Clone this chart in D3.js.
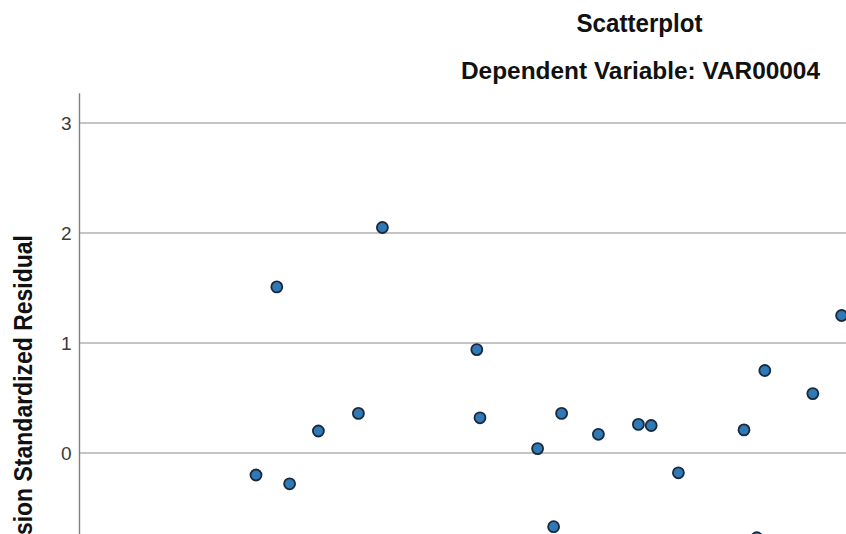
<!DOCTYPE html>
<html>
<head>
<meta charset="utf-8">
<script src="https://cdn.jsdelivr.net/npm/d3@7"></script>
<style>
  html, body { margin: 0; padding: 0; background: #fff; }
  svg { display: block; }
  text { font-family: "Liberation Sans", Arial, sans-serif; }
</style>
</head>
<body>
<svg id="chart" width="846" height="534"></svg>
<script>
// Regression standardized predicted value (x) and standardized residual (y)
const predicted = [-1.40, -1.27, -1.19, -1.01, -0.76, -0.61, -0.02, 0.00, 0.36, 0.46,
                   0.51, 0.74, 0.99, 1.07, 1.24, 1.65, 1.78, 2.08, 2.26, 1.73];
const residual  = [-0.20, 1.51, -0.28, 0.20, 0.36, 2.05, 0.94, 0.32, 0.04, -0.67,
                   0.36, 0.17, 0.26, 0.25, -0.18, 0.21, 0.75, 0.54, 1.25, -0.77];
const yTicks = [0, 1, 2, 3];
const titleText = "Scatterplot";
const subtitleText = "Dependent Variable: VAR00004";
const yTitle = "Regression Standardized Residual";

const svg = d3.select("#chart");
const W = 846, H = 534;
const left = 80;

const x = d3.scaleLinear().domain([-2.5, 2.5]).range([left, left + 800]);
const y = d3.scaleLinear().domain([0, 3]).range([453, 123]);

// horizontal grid lines
svg.append("g")
  .selectAll("line")
  .data(yTicks)
  .join("line")
  .attr("x1", left)
  .attr("x2", W)
  .attr("y1", d => y(d))
  .attr("y2", d => y(d))
  .attr("stroke", "#c4c4c4")
  .attr("stroke-width", 2);

// y axis
const yAxis = d3.axisLeft(y).tickValues(yTicks).tickSize(0).tickPadding(8).tickFormat(d3.format("d"));
const ga = svg.append("g").attr("transform", `translate(${left - 0.5},0)`).call(yAxis);
ga.select(".domain").remove();
ga.selectAll("text")
  .attr("font-size", 19)
  .attr("fill", "#3a3a3a")
  .attr("font-family", "'Liberation Sans', Arial, sans-serif");
svg.append("line")
  .attr("x1", left - 0.5).attr("x2", left - 0.5)
  .attr("y1", y(3.27)).attr("y2", H + 10)
  .attr("stroke", "#808080")
  .attr("stroke-width", 1.4);

// points
const pts = predicted.map((p, i) => ({ p, r: residual[i] }));
svg.append("g")
  .selectAll("circle")
  .data(pts)
  .join("circle")
  .attr("cx", d => x(d.p))
  .attr("cy", d => y(d.r))
  .attr("r", 5.5)
  .attr("fill", "#3079b7")
  .attr("stroke", "#1a2a3d")
  .attr("stroke-width", 1.8);

// titles
svg.append("text")
  .attr("x", 639.5).attr("y", 32)
  .attr("text-anchor", "middle")
  .attr("font-size", 26).attr("font-weight", "bold")
  .attr("textLength", 126).attr("lengthAdjust", "spacingAndGlyphs")
  .attr("fill", "#111")
  .text(titleText);

svg.append("text")
  .attr("x", 640.5).attr("y", 79)
  .attr("text-anchor", "middle")
  .attr("font-size", 24.5).attr("font-weight", "bold")
  .attr("textLength", 359).attr("lengthAdjust", "spacingAndGlyphs")
  .attr("fill", "#111")
  .text(subtitleText);

// y axis title
svg.append("text")
  .attr("transform", "translate(31.5,235) rotate(-90)")
  .attr("text-anchor", "end")
  .attr("font-size", 25).attr("font-weight", "bold")
  .attr("textLength", 378).attr("lengthAdjust", "spacingAndGlyphs")
  .attr("fill", "#111")
  .text(yTitle);
</script>
</body>
</html>
